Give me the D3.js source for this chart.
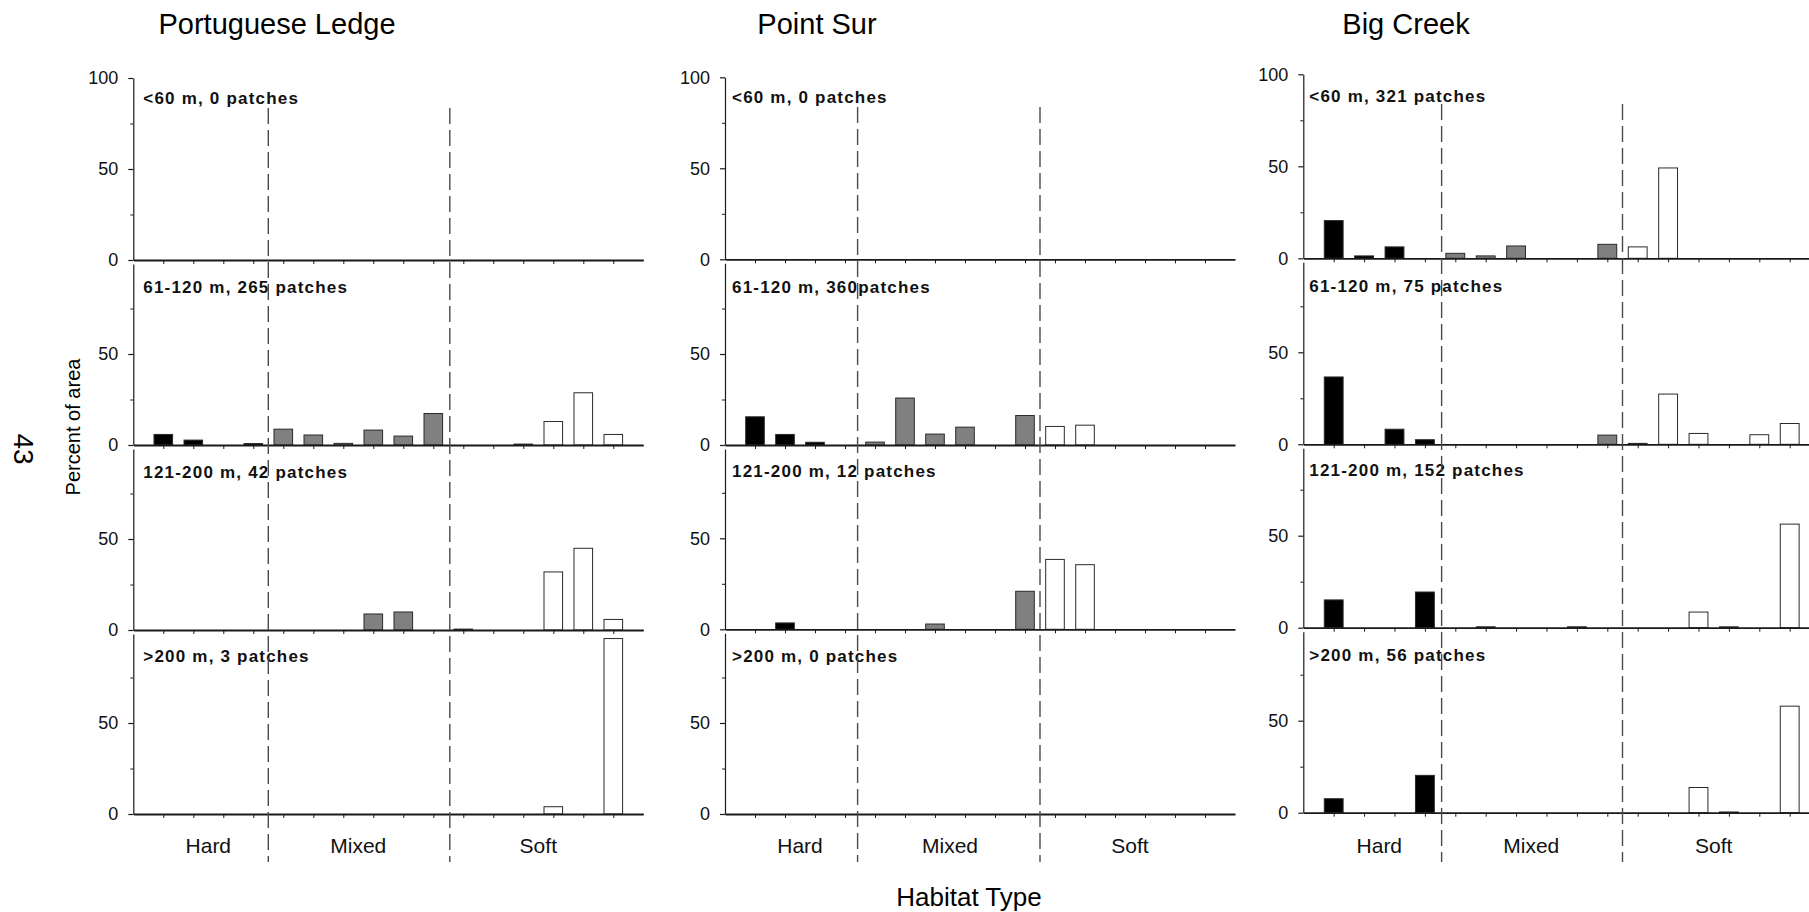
<!DOCTYPE html>
<html>
<head>
<meta charset="utf-8">
<script src="https://cdn.jsdelivr.net/npm/d3@7"></script>
<style>
  html, body { margin: 0; padding: 0; background: #fff; }
  svg { display: block; font-family: "Liberation Sans", Arial, sans-serif; }
</style>
</head>
<body>
<svg id="chart" width="1809" height="912"></svg>
<script>
// Percent of mapped area by habitat class, per site and depth band.
const sites = ["Portuguese Ledge", "Point Sur", "Big Creek"];
const habitatGroups = ["Hard", "Mixed", "Soft"];
const habitatClasses = [1, 2, 3, 4, 5, 6, 7, 8, 9, 10, 11, 12, 13, 14, 15, 16];
const classGroup = ["Hard", "Hard", "Hard", "Hard",
                    "Mixed", "Mixed", "Mixed", "Mixed", "Mixed", "Mixed",
                    "Soft", "Soft", "Soft", "Soft", "Soft", "Soft"];
const groupCentre = [2.5, 7.5, 13.5];
const groupDividers = [4.5, 10.5];
const majorTicksTop = [0, 50, 100];
const majorTicks = [0, 50];
const minorTicks = [25, 75];

const plBandText = ["<60 m, 0 patches", "61-120 m, 265 patches", "121-200 m, 42 patches", ">200 m, 3 patches"];
const psBandText = ["<60 m, 0 patches", "61-120 m, 360patches", "121-200 m, 12 patches", ">200 m, 0 patches"];
const bcBandText = ["<60 m, 321 patches", "61-120 m, 75 patches", "121-200 m, 152 patches", ">200 m, 56 patches"];

const plBand1 = [0, 0, 0, 0, 0, 0, 0, 0, 0, 0, 0, 0, 0, 0, 0, 0];
const plBand2 = [5.8, 2.7, 0, 0.8, 8.7, 5.5, 0.9, 8.2, 4.9, 17.3, 0, 0, 0.5, 12.9, 28.7, 5.8];
const plBand3 = [0, 0, 0, 0, 0, 0, 0, 8.8, 9.9, 0, 0.5, 0, 0, 31.9, 44.9, 5.8];
const plBand4 = [0, 0, 0, 0, 0, 0, 0, 0, 0, 0, 0, 0, 0, 4.0, 0, 96.4];

const psBand1 = [0, 0, 0, 0, 0, 0, 0, 0, 0, 0, 0, 0, 0, 0, 0, 0];
const psBand2 = [15.5, 5.8, 1.5, 0, 1.6, 25.8, 6.0, 9.8, 0, 16.2, 10.2, 10.9, 0, 0, 0, 0];
const psBand3 = [0, 3.5, 0, 0, 0, 0, 2.9, 0, 0, 20.9, 38.4, 35.5, 0, 0, 0, 0];
const psBand4 = [0, 0, 0, 0, 0, 0, 0, 0, 0, 0, 0, 0, 0, 0, 0, 0];

const bcBand1 = [20.5, 1.3, 6.2, 0, 2.7, 1.3, 6.7, 0, 0, 7.6, 6.2, 49.1, 0, 0, 0, 0];
const bcBand2 = [36.6, 0, 8.2, 2.5, 0, 0, 0, 0, 0, 5.0, 0.5, 27.3, 5.9, 0, 5.2, 11.3];
const bcBand3 = [15.1, 0, 0, 19.4, 0, 0.5, 0, 0, 0.5, 0, 0, 0, 8.5, 0.5, 0, 56.3];
const bcBand4 = [7.6, 0, 0, 20.3, 0, 0, 0, 0, 0, 0, 0, 0, 13.7, 0.4, 0, 57.9];

const siteBands = [
  [plBand1, plBand2, plBand3, plBand4],
  [psBand1, psBand2, psBand3, psBand4],
  [bcBand1, bcBand2, bcBand3, bcBand4]
];
const siteBandText = [plBandText, psBandText, bcBandText];

// Column geometry (pixels)
const columns = [
  { left: 133.3, step: 30.0, zeros: [260, 445, 630, 814], k: 1.82, divShift: [0, 0.05], dashTop: 108, titleX: 277, labelDx: 10 },
  { left: 725.0, step: 30.0, zeros: [259.3, 445, 629.3, 814], k: 1.82, divShift: [-0.08, 0], dashTop: 107, titleX: 817, labelDx: 7 },
  { left: 1303.3, step: 30.4, zeros: [258.3, 444.3, 627.7, 812.7], k: 1.84, divShift: [0.05, 0], dashTop: 104, titleX: 1406, labelDx: 6 }
];

const groupFill = { Hard: "#000000", Mixed: "#808080", Soft: "#ffffff" };
const ink = "#1a1a1a";

const svg = d3.select("#chart");

columns.forEach((col, s) => {
  const g = svg.append("g");
  const x = d3.scaleLinear().domain([0, 17]).range([col.left, col.left + 17 * col.step]);
  const barW = col.step * 0.62;

  // site title
  g.append("text")
    .attr("x", col.titleX).attr("y", 33.5)
    .attr("text-anchor", "middle")
    .attr("font-size", 29).attr("fill", "#000")
    .text(sites[s]);

  siteBands[s].forEach((vals, r) => {
    const zero = col.zeros[r];
    const top = r === 0 ? zero - 100 * col.k : col.zeros[r - 1] + 4;
    const topVal = (zero - top) / col.k;
    const y = d3.scaleLinear().domain([0, topVal]).range([zero, top]);

    // bars
    g.append("g").selectAll("rect")
      .data(habitatClasses.map((c, i) => ({ c, v: vals[i], grp: classGroup[i] })).filter(d => d.v > 0))
      .join("rect")
      .attr("x", d => x(d.c) - barW / 2)
      .attr("width", barW)
      .attr("y", d => y(d.v))
      .attr("height", d => y(0) - y(d.v))
      .attr("fill", d => groupFill[d.grp])
      .attr("stroke", "#2a2a2a")
      .attr("stroke-width", 1);

    // y axis: labelled major ticks
    const yMajor = d3.axisLeft(y)
      .tickValues(r === 0 ? majorTicksTop : majorTicks)
      .tickSize(5).tickSizeOuter(0).tickPadding(10)
      .tickFormat(d3.format("d"));
    const ya = g.append("g").attr("transform", `translate(${col.left},0)`).call(yMajor);
    ya.select(".domain").attr("stroke", ink).attr("stroke-width", 1.2);
    ya.selectAll(".tick line").attr("stroke", ink).attr("stroke-width", 1.2);
    ya.selectAll(".tick text").attr("font-size", 18).attr("fill", "#111")
      .attr("font-family", "Liberation Sans, Arial, sans-serif");

    // y axis: minor ticks
    const yMinor = d3.axisLeft(y).tickValues(minorTicks).tickSize(3).tickSizeOuter(0).tickFormat("");
    const ym = g.append("g").attr("transform", `translate(${col.left},0)`).call(yMinor);
    ym.select(".domain").remove();
    ym.selectAll(".tick line").attr("stroke", ink).attr("stroke-width", 1);

    // x axis with a tick under every habitat class
    const xAxis = d3.axisBottom(x).tickValues(habitatClasses).tickSize(4).tickSizeOuter(0).tickFormat("");
    const xa = g.append("g").attr("transform", `translate(0,${zero})`).call(xAxis);
    xa.select(".domain").attr("stroke", ink).attr("stroke-width", 1.8);
    xa.selectAll(".tick line").attr("stroke", ink).attr("stroke-width", 1);

    // depth band label
    g.append("text")
      .attr("x", col.left + col.labelDx)
      .attr("y", zero - (r === 0 ? 156 : 152))
      .attr("font-size", 17).attr("font-weight", "bold")
      .attr("letter-spacing", 1.2)
      .attr("fill", "#111")
      .text(siteBandText[s][r]);
  });

  // dashed dividers between habitat groups
  g.append("g").selectAll("line")
    .data(groupDividers)
    .join("line")
    .attr("x1", (d, i) => x(d + col.divShift[i]))
    .attr("x2", (d, i) => x(d + col.divShift[i]))
    .attr("y1", col.dashTop).attr("y2", 862)
    .attr("stroke", "#4a4a4a").attr("stroke-width", 1.4)
    .attr("stroke-dasharray", "16,6");

  // habitat group names
  g.append("g").selectAll("text")
    .data(habitatGroups)
    .join("text")
    .attr("x", (d, i) => x(groupCentre[i]))
    .attr("y", 853)
    .attr("text-anchor", "middle")
    .attr("font-size", 21).attr("fill", "#111")
    .text(d => d);
});

// shared axis titles
svg.append("text")
  .attr("x", 969).attr("y", 906)
  .attr("text-anchor", "middle")
  .attr("font-size", 26).attr("fill", "#000")
  .text("Habitat Type");

svg.append("text")
  .attr("transform", "translate(80,427) rotate(-90)")
  .attr("text-anchor", "middle")
  .attr("font-size", 20).attr("fill", "#000")
  .text("Percent of area");

// page number, set sideways
svg.append("text")
  .attr("transform", "translate(14,449) rotate(90)")
  .attr("text-anchor", "middle")
  .attr("font-size", 28).attr("fill", "#000")
  .text("43");
</script>
</body>
</html>
